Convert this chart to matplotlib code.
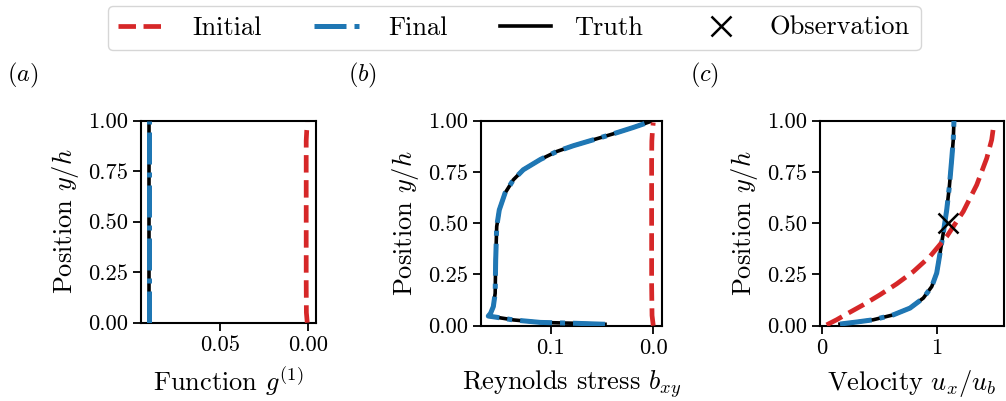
import matplotlib
matplotlib.use("Agg")
import matplotlib.pyplot as plt
from matplotlib.lines import Line2D
from matplotlib.ticker import FormatStrFormatter

plt.rcParams['font.family'] = ['cmr10', 'DejaVu Serif']
plt.rcParams['mathtext.fontset'] = 'cm'
plt.rcParams['axes.formatter.use_mathtext'] = True
plt.rcParams['axes.unicode_minus'] = False

# ---------------- data ----------------
# panel (a): function g^(1)  (plotted on reversed axis)
y_a = [0.0, 0.05, 0.2, 0.4, 0.6, 0.8, 0.9, 0.95, 0.99]
g_init = [0.0004, 0.0009, 0.0010, 0.0010, 0.0010, 0.0010, 0.0010, 0.0007, 0.0002]
y_af = [0.0, 1.0]
g_final = [0.0903, 0.0903]
g_truth = [0.0903, 0.0903]

# panel (b): Reynolds stress b_xy (reversed axis)
y_b_init = [0.0, 0.05, 0.2, 0.4, 0.6, 0.8, 0.9, 0.95, 0.99]
b_init = [0.0000, 0.0012, 0.0016, 0.0016, 0.0016, 0.0016, 0.0014, 0.0008, 0.0000]
y_b = [0.007, 0.012, 0.016, 0.028, 0.041, 0.047, 0.060, 0.093, 0.158, 0.32,
       0.483, 0.564, 0.646, 0.711, 0.76, 0.81, 0.849, 0.877, 0.906, 0.935,
       0.966, 0.994]
b_final = [0.047, 0.0779, 0.110, 0.136, 0.1525, 0.1607, 0.1585, 0.1558, 0.154,
           0.1535, 0.1525, 0.150, 0.1444, 0.1363, 0.1266, 0.110, 0.094, 0.0779,
           0.0584, 0.039, 0.0195, 0.0032]
b_truth = b_final

# panel (c): velocity u_x/u_b
y_c_init = [0.003, 0.028, 0.056, 0.101, 0.15, 0.203, 0.263, 0.337, 0.434,
            0.556, 0.686, 0.816, 0.906, 0.987]
u_init = [0.043, 0.13, 0.217, 0.362, 0.507, 0.652, 0.797, 0.942, 1.087,
          1.231, 1.348, 1.435, 1.478, 1.498]
y_c = [0.007, 0.017, 0.028, 0.052, 0.085, 0.134, 0.19, 0.256, 0.353, 0.451,
       0.564, 0.678, 0.808, 0.906, 0.999]
u_final = [0.159, 0.304, 0.449, 0.623, 0.768, 0.884, 0.957, 1.0, 1.029, 1.057,
           1.087, 1.11, 1.13, 1.144, 1.15]
u_truth = u_final
obs_u = [1.1]
obs_y = [0.5]

legend_labels = ['Initial', 'Final', 'Truth', 'Observation']
panel_labels = ['$(a)$', '$(b)$', '$(c)$']
xlabels = ['Function $g^{(1)}$', 'Reynolds stress $b_{xy}$', 'Velocity $u_x/u_b$']
yticks = [0.0, 0.25, 0.5, 0.75, 1.0]

# ---------------- styles ----------------
RED = '#d62728'
BLUE = '#1f77b4'
W, H = 1006, 401
TICK_FS = 16.3
LAB_FS = 19

fig = plt.figure(figsize=(W / 100, H / 100), dpi=100)

def px_axes(l, t, r, b):
    return fig.add_axes([l / W, 1 - b / H, (r - l) / W, (b - t) / H])

axa = px_axes(141, 120.5, 315.7, 322.7)
axb = px_axes(481, 120.5, 662, 325.7)
axc = px_axes(820.3, 120.5, 1004, 325.5)

kw_init = dict(color=RED, ls='--', lw=3.4, zorder=3)
kw_truth = dict(color='black', ls='-', lw=2.6, zorder=2)
kw_final = dict(color=BLUE, ls='-.', lw=3.6, zorder=3)

axa.plot(g_truth, y_af, **kw_truth)
axa.plot(g_final, y_af, **kw_final)
axa.plot(g_init, y_a, **kw_init)
axa.set_xlim(0.0949, -0.0044)
axa.set_xticks([0.05, 0.0])

axb.plot(b_truth, y_b, **kw_truth)
axb.plot(b_final, y_b, **kw_final)
axb.plot(b_init, y_b_init, **kw_init)
axb.set_xlim(0.1678, -0.0085)
axb.set_xticks([0.1, 0.0])

axc.plot(u_truth, y_c, **kw_truth)
axc.plot(u_final, y_c, **kw_final)
axc.plot(u_init, y_c_init, **kw_init)
axc.plot(obs_u, obs_y, ls='none', marker='x', color='black', ms=14, mew=1.8, zorder=5)
axc.set_xlim(-0.012, 1.585)
axc.set_xticks([0, 1])

for ax, xl in zip([axa, axb, axc], xlabels):
    ax.set_ylim(0, 1)
    ax.set_yticks(yticks)
    ax.yaxis.set_major_formatter(FormatStrFormatter('%.2f'))
    ax.set_ylabel('Position $y/h$', fontsize=LAB_FS, labelpad=5)
    ax.set_xlabel(xl, fontsize=LAB_FS, labelpad=7)
    ax.tick_params(labelsize=TICK_FS, length=6, width=1.3, pad=3.5)
    for s in ax.spines.values():
        s.set_linewidth(1.5)

axa.xaxis.set_major_formatter(FormatStrFormatter('%.2f'))
axb.xaxis.set_major_formatter(FormatStrFormatter('%.1f'))
axc.xaxis.set_major_formatter(FormatStrFormatter('%d'))

for x, lab in zip([7, 348, 690], panel_labels):
    fig.text(x / W, 1 - 75 / H, lab, fontsize=17.5, ha='left', va='center')

handles = [Line2D([], [], **kw_init), Line2D([], [], **kw_final),
           Line2D([], [], **kw_truth),
           Line2D([], [], ls='none', marker='x', color='black', ms=14, mew=1.8)]
fig.legend(handles, legend_labels, loc='upper center', bbox_to_anchor=(514 / W, 1 - 5.5 / H),
           ncol=4, fontsize=LAB_FS, frameon=True, handlelength=1.9, handletextpad=0.9,
           columnspacing=2.0, borderpad=0.4, borderaxespad=0, fancybox=True,
           edgecolor='#cccccc')

fig.savefig('out.png', dpi=100)
